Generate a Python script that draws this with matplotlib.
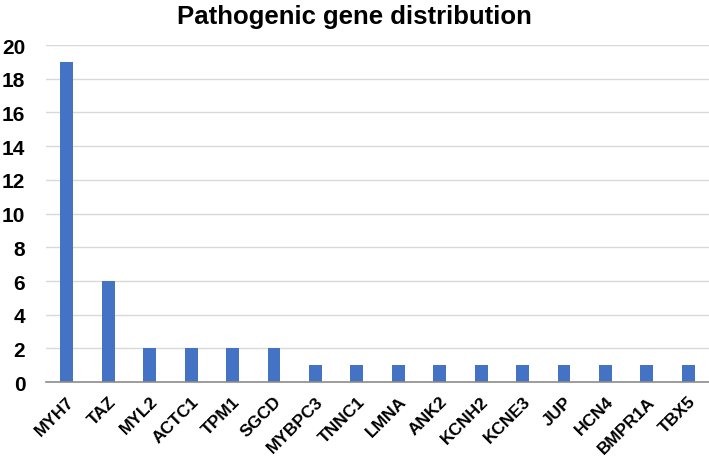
import matplotlib.pyplot as plt
import numpy as np

genes = ['MYH7', 'TAZ', 'MYL2', 'ACTC1', 'TPM1', 'SGCD', 'MYBPC3', 'TNNC1',
         'LMNA', 'ANK2', 'KCNH2', 'KCNE3', 'JUP', 'HCN4', 'BMPR1A', 'TBX5']
counts = [19, 6, 2, 2, 2, 2, 1, 1, 1, 1, 1, 1, 1, 1, 1, 1]
yticks = list(range(0, 21, 2))

plt.rcParams['font.family'] = ['Liberation Sans', 'DejaVu Sans']

fig = plt.figure(figsize=(7.09, 4.60), dpi=100)
ax = fig.add_axes([0.065, 0.167, 0.935, 0.733])

x = np.arange(len(genes))
ax.bar(x, counts, width=0.31, color='#4472C4', zorder=3)

ax.set_xlim(-0.5, len(genes) - 0.5)
ax.set_ylim(0, 20)
ax.set_yticks(yticks)
ax.set_yticklabels([str(t) for t in yticks], fontsize=15, fontweight='bold')
ax.set_xticks(x)
ax.set_xticklabels(genes, rotation=45, ha='right', rotation_mode='anchor',
                   fontsize=12.5, fontweight='bold')
ax.tick_params(axis='both', length=0)
ax.tick_params(axis='y', pad=15)
ax.tick_params(axis='x', pad=8)

ax.grid(axis='y', color='#d9d9d9', linewidth=1, zorder=0)
for s in ['top', 'right', 'left']:
    ax.spines[s].set_visible(False)
ax.spines['bottom'].set_color('#8c8c8c')
ax.spines['bottom'].set_linewidth(1.2)
ax.spines['bottom'].set_zorder(4)

fig.text(0.5, 0.99, 'Pathogenic gene distribution', ha='center', va='top',
         fontsize=18.5, fontweight='bold')

fig.savefig('out.png', dpi=100)
